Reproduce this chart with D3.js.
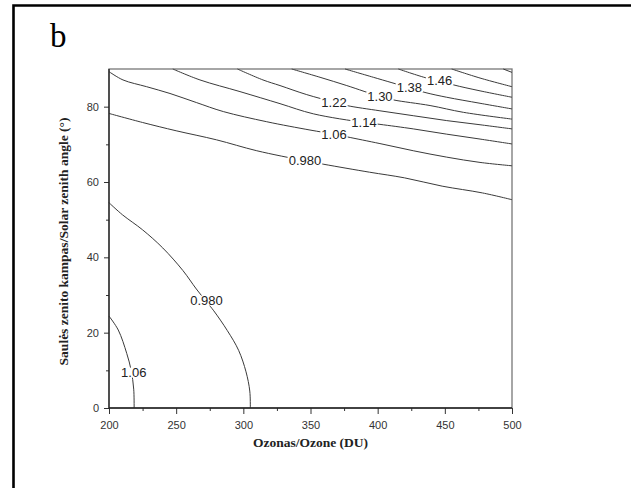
<!DOCTYPE html>
<meta charset="utf-8">
<style>
body { margin: 0; background: #fff; }
svg { display: block; }
.tick text { font-family: "Liberation Sans", Arial, sans-serif; font-size: 11px; fill: #333; }
.tick line { stroke: #333; stroke-width: 1; }
.contour { fill: none; stroke: #3a3a3a; stroke-width: 1; }
.clabel { font-family: "Liberation Sans", Arial, sans-serif; font-size: 13px; fill: #222; }
.title { font-family: "Liberation Serif", "Times New Roman", serif; font-weight: bold; font-size: 13.5px; fill: #222; }
</style>
<body>
<script src="https://d3js.org/d3.v7.min.js"></script>
<script>
// axis ticks
var xTicks = [200, 250, 300, 350, 400, 450, 500];
var xMinor = [225, 275, 325, 375, 425, 475];
var yTicks = [0, 20, 40, 60, 80];
var yMinor = [10, 30, 50, 70];

// contour lines: [ozone DU, zenith angle deg]
var c098a = [[200,78.2],[225,75.8],[250,73.6],[280,71.2],[310,68.3],[345,65.7],[360,64.7],[394,62.6],[420,61.1],[448,58.9],[478,57.1],[500,55.3]];
var c106a = [[200,89.3],[210.4,87.1],[228,85.3],[245.4,83.5],[265,81.1],[285.1,78.7],[317.4,76],[349.6,73.8],[367.5,72.7],[377,72],[401.7,70.2],[426.5,68.3],[451.4,66.6],[476.2,65.2],[500,64.3]];
var c114 = [[247.5,90],[267.7,87.1],[297.5,84],[327.3,80.8],[352.1,78.1],[389.8,75.8],[401.7,75.3],[426.5,74.1],[451.4,72.7],[476.2,71.4],[500,70.1]];
var c122 = [[295.6,90],[314.6,87.1],[327.3,85.6],[347.2,83.2],[367.5,81.2],[377,80.3],[401.7,78.9],[426.5,77.6],[451.4,76.3],[476.2,75.2],[500,74.1]];
var c130 = [[336,90],[357.1,87.8],[377,85.6],[401.7,82.7],[411.6,81.8],[439,80.3],[463.8,78.5],[500,76.7]];
var c138 = [[375.7,90],[396.8,87.8],[423.6,85],[436,83.7],[451.4,82.5],[476.2,80.9],[500,79.4]];
var c146 = [[415.4,90],[436.5,87.6],[446.1,86.9],[456.3,85.8],[476.2,84.2],[500,82.5]];
var c154 = [[455.1,90],[476.2,87.6],[500,85.3]];
var c162 = [[493.5,90],[500,89.1]];
var c098b = [[200,54.5],[210,51.3],[225,47.3],[240,42.5],[255,36.5],[265,31.6],[272.6,28.2],[278,25.8],[288,20.6],[296.5,15.3],[302,9.6],[304.8,4.5],[305.2,0]];
var c106b = [[200,24.4],[206.9,20.7],[213.2,14.5],[216.5,10],[218.4,5],[218.7,0]];

var contours = [c098a, c106a, c114, c122, c130, c138, c146, c154, c162, c098b, c106b];

// label texts and where they sit [DU, deg]
var labelText = ["0.980", "1.06", "1.14", "1.22", "1.30", "1.38", "1.46", "0.980", "1.06"];
var labelAt = [[345.9,65.7],[367.5,72.7],[389.8,75.8],[367.5,81.2],[401.7,82.7],[423.6,85.1],[446.1,86.9],[272.6,28.5],[218.4,9.4]];

var W = 631, H = 488;
var margin = {left: 109, top: 69, right: 119, bottom: 80};

var svg = d3.select("body").append("svg")
    .attr("width", W)
    .attr("height", H);

// outer frame (left and top only)
svg.append("path")
    .attr("d", "M13.5," + H + "V5.5H" + W)
    .attr("fill", "none")
    .attr("stroke", "#000")
    .attr("stroke-width", 2.6);

svg.append("text")
    .attr("x", 50)
    .attr("y", 46.5)
    .style("font-family", "'Liberation Serif', 'Times New Roman', serif")
    .style("font-size", "33px")
    .text("b");

var x = d3.scaleLinear().domain([200, 500]).range([margin.left, W - margin.right]);
var y = d3.scaleLinear().domain([0, 90]).range([H - margin.bottom, margin.top]);

// plot box
svg.append("rect")
    .attr("x", x(200)).attr("y", y(90))
    .attr("width", x(500) - x(200)).attr("height", y(0) - y(90))
    .attr("fill", "none").attr("stroke", "#777").attr("stroke-width", 1.3);

var line = d3.line()
    .x(function(d) { return x(d[0]); })
    .y(function(d) { return y(d[1]); })
    .curve(d3.curveCatmullRom.alpha(0.5));

svg.append("g").selectAll("path")
    .data(contours)
  .enter().append("path")
    .attr("class", "contour")
    .attr("d", line);

// labels with a white gap behind them
var lab = svg.append("g").selectAll("g")
    .data(labelText)
  .enter().append("g")
    .attr("transform", function(d, i) { return "translate(" + x(labelAt[i][0]) + "," + y(labelAt[i][1]) + ")"; });
lab.append("rect")
    .attr("fill", "#fff");
lab.append("text")
    .attr("class", "clabel")
    .attr("text-anchor", "middle")
    .attr("dy", "0.36em")
    .text(function(d) { return d; });
lab.each(function() {
  var g = d3.select(this);
  var b = g.select("text").node().getBBox();
  g.select("rect")
    .attr("x", b.x - 1).attr("width", b.width + 2)
    .attr("y", -5).attr("height", 10);
});

// axes
var gx = svg.append("g")
    .attr("transform", "translate(0," + y(0) + ")")
    .call(d3.axisBottom(x).tickValues(xTicks).tickSize(6).tickPadding(7));
gx.select(".domain").remove();
var gxm = svg.append("g")
    .attr("transform", "translate(0," + y(0) + ")")
    .call(d3.axisBottom(x).tickValues(xMinor).tickSize(3).tickFormat(""));
gxm.select(".domain").remove();

var gy = svg.append("g")
    .attr("transform", "translate(" + x(200) + ",0)")
    .call(d3.axisLeft(y).tickValues(yTicks).tickSize(5).tickPadding(5));
gy.select(".domain").remove();
var gym = svg.append("g")
    .attr("transform", "translate(" + x(200) + ",0)")
    .call(d3.axisLeft(y).tickValues(yMinor).tickSize(3).tickFormat(""));
gym.select(".domain").remove();

// left and bottom axis lines
svg.append("path")
    .attr("d", "M" + x(200) + "," + y(90) + "V" + y(0) + "H" + x(500))
    .attr("fill", "none").attr("stroke", "#222").attr("stroke-width", 1.3);

svg.append("text")
    .attr("class", "title")
    .attr("x", (x(200) + x(500)) / 2)
    .attr("y", 447)
    .attr("text-anchor", "middle")
    .text("Ozonas/Ozone (DU)");

svg.append("text")
    .attr("class", "title")
    .attr("transform", "translate(67.5," + ((y(0) + y(90)) / 2 + 3) + ") rotate(-90)")
    .attr("text-anchor", "middle")
    .text("Saulės zenito kampas/Solar zenith angle (°)");
</script>
</body>
